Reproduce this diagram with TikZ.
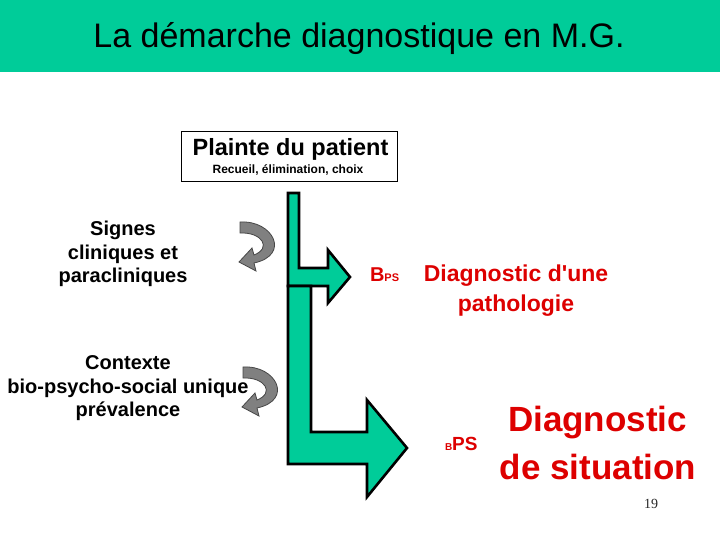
\documentclass[tikz,border=0pt]{standalone}
\usepackage{fontspec}
\setmainfont{Liberation Sans}
\newfontfamily\numfont{Liberation Serif}
\definecolor{band}{RGB}{0,204,153}
\definecolor{redtxt}{RGB}{221,0,0}
\definecolor{curlfill}{RGB}{128,128,128}
\definecolor{curldraw}{RGB}{70,70,70}
\begin{document}
\begin{tikzpicture}[x=1pt,y=-1pt,
  txt/.style={anchor=base,inner sep=0pt,outer sep=0pt},
  lbl/.style={txt,font=\bfseries\fontsize{20}{24}\selectfont},
  redt/.style={txt,text=redtxt},
  greenarrow/.style={fill=band,draw=black,line width=2.6pt,line join=miter},
  curl/.style={fill=curlfill,draw=curldraw,line width=0.8pt},
  curlarrow/.pic={\filldraw[curl] (0,0) .. controls (33,-2) and (51,33) .. (14,41) -- (16,49) -- (-1,40) -- (12,26) -- (14,33) .. controls (32,26) and (22,10) .. (0,11) -- cycle;}]
\useasboundingbox (0,0) rectangle (720,540);
\fill[band] (0,0) rectangle (720,72);
\node[txt,font=\fontsize{34}{40}\selectfont] (title) at (359,47.7) {La démarche diagnostique en M.G.};
% top box
\node[draw=black,line width=1pt,minimum width=216pt,minimum height=50pt,inner sep=0pt] (box) at (289.7,156.7) {};
\node[txt,font=\bfseries\fontsize{23.5}{27}\selectfont] (plainte) at (290.5,156) {Plainte du patient};
\node[txt,font=\bfseries\fontsize{12}{14}\selectfont] (recueil) at (288,173.3) {Recueil, élimination, choix};
% left labels
\node[lbl] (s1) at (123,236) {Signes};
\node[lbl] (s2) at (123,259) {cliniques et};
\node[lbl] (s3) at (123,282) {paracliniques};
\node[lbl] (c1) at (128,369) {Contexte};
\node[lbl] (c2) at (128,393) {bio-psycho-social unique};
\node[lbl] (c3) at (128,416) {prévalence};
% green arrows
\filldraw[greenarrow] (288,193) -- (299,193) -- (299,268) -- (328,268) -- (328,250) -- (350,277) -- (328,303) -- (328,286) -- (288,286) -- cycle;
\filldraw[greenarrow] (288,286) -- (311,286) -- (311,432) -- (367,432) -- (367,400) -- (407,448) -- (367,497) -- (367,464) -- (288,464) -- cycle;
% curled arrows
\pic at (240,222) {curlarrow};
\pic at (243,367) {curlarrow};
% red texts
\node[redt,anchor=base west,font=\bfseries\fontsize{20}{22}\selectfont] (b1) at (370,281.7) {B};
\node[redt,anchor=base west,font=\bfseries\fontsize{11}{13}\selectfont] (ps1) at (b1.base east) {PS};
\node[redt,font=\bfseries\fontsize{23}{27}\selectfont] (d1) at (516,281.7) {Diagnostic d\textquotesingle une};
\node[redt,font=\bfseries\fontsize{23}{27}\selectfont] (d2) at (516,311) {pathologie};
\node[redt,anchor=base west,font=\bfseries\fontsize{10}{12}\selectfont] (b2) at (445,450) {B};
\node[redt,anchor=base west,font=\bfseries\fontsize{19}{22}\selectfont] (ps2) at (b2.base east) {PS};
\node[redt,font=\bfseries\fontsize{35}{40}\selectfont] (d3) at (597.5,431.7) {Diagnostic};
\node[redt,font=\bfseries\fontsize{35}{40}\selectfont] (d4) at (598,479.3) {de situation};
\node[txt,text=black!85,font=\numfont\fontsize{14}{16}\selectfont] (num) at (651,508) {19};
\end{tikzpicture}
\end{document}
